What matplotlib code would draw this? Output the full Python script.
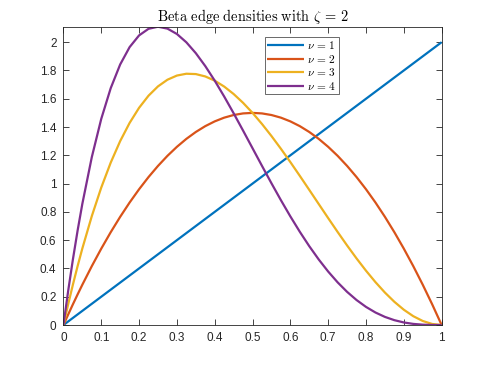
import matplotlib
matplotlib.use("Agg")
import matplotlib.pyplot as plt

plt.rcParams['mathtext.fontset'] = 'cm'
plt.rcParams['font.family'] = ['Liberation Sans', 'DejaVu Sans']

x1 = [0.0, 1.0]
y1 = [0.0, 2.0]

xs = [0.0, 0.0125, 0.025, 0.0375, 0.05, 0.075, 0.1, 0.125, 0.15, 0.175, 0.2, 0.225, 0.25,
      0.275, 0.3, 0.325, 0.35, 0.375, 0.4, 0.425, 0.45, 0.475, 0.5,
      0.525, 0.55, 0.575, 0.6, 0.625, 0.65, 0.675, 0.7, 0.725, 0.75,
      0.775, 0.8, 0.825, 0.85, 0.875, 0.9, 0.925, 0.95, 0.975, 1.0]

y2 = [0.0, 0.0741, 0.1463, 0.2166, 0.285, 0.4163, 0.54, 0.6563, 0.765, 0.8663, 0.96, 1.0463, 1.125,
      1.1963, 1.26, 1.3163, 1.365, 1.4063, 1.44, 1.4663, 1.485, 1.4963, 1.5,
      1.4963, 1.485, 1.4663, 1.44, 1.4063, 1.365, 1.3163, 1.26, 1.1963, 1.125,
      1.0463, 0.96, 0.8663, 0.765, 0.6563, 0.54, 0.4163, 0.285, 0.1463, 0.0]

y3 = [0.0, 0.1463, 0.2852, 0.4171, 0.5415, 0.7701, 0.972, 1.1484, 1.3005, 1.4293, 1.536, 1.6217, 1.6875,
      1.7346, 1.764, 1.7769, 1.7745, 1.7578, 1.728, 1.6862, 1.6335, 1.5711, 1.5,
      1.4214, 1.3365, 1.2463, 1.152, 1.0547, 0.9555, 0.8556, 0.756, 0.6579, 0.5625,
      0.4708, 0.384, 0.3032, 0.2295, 0.1641, 0.108, 0.0624, 0.0285, 0.0073, 0.0]

y4 = [0.0, 0.2408, 0.4634, 0.6687, 0.8574, 1.1872, 1.458, 1.6748, 1.8424, 1.9653, 2.048, 2.0947, 2.1094,
      2.0959, 2.058, 1.9991, 1.9224, 1.8311, 1.728, 1.6159, 1.4974, 1.3747, 1.25,
      1.1253, 1.0024, 0.8828, 0.768, 0.6592, 0.5574, 0.4634, 0.378, 0.3016, 0.2344,
      0.1766, 0.128, 0.0884, 0.0574, 0.0342, 0.018, 0.0078, 0.0024, 0.0003, 0.0]

labels = [r'$\nu\,=\,1$', r'$\nu\,=\,2$', r'$\nu\,=\,3$', r'$\nu\,=\,4$']
colors = ['#0072BD', '#D95319', '#EDB120', '#7E2F8E']
xticks = [0, 0.1, 0.2, 0.3, 0.4, 0.5, 0.6, 0.7, 0.8, 0.9, 1]
xticklabels = ['0', '0.1', '0.2', '0.3', '0.4', '0.5', '0.6', '0.7', '0.8', '0.9', '1']
yticks = [0, 0.2, 0.4, 0.6, 0.8, 1.0, 1.2, 1.4, 1.6, 1.8, 2.0]
yticklabels = ['0', '0.2', '0.4', '0.6', '0.8', '1', '1.2', '1.4', '1.6', '1.8', '2']

fig = plt.figure(figsize=(4.88, 3.66), dpi=100)
ax = fig.add_axes([0.13, 0.112, 0.775, 0.815])

series = [(x1, y1), (xs, y2), (xs, y3), (xs, y4)]
for (xx, yy), c, lab in zip(series, colors, labels):
    ax.plot(xx, yy, color=c, lw=1.6, label=lab, solid_capstyle='butt')

ax.set_xlim(0, 1)
ax.set_ylim(0, max(y4))
ax.set_xticks(xticks)
ax.set_xticklabels(xticklabels)
ax.set_yticks(yticks)
ax.set_yticklabels(yticklabels)

axcol = '#262626'
for s in ax.spines.values():
    s.set_color(axcol)
    s.set_linewidth(0.6)
ax.tick_params(direction='in', length=4, width=0.6, colors=axcol, labelsize=8.5,
               top=True, right=True, pad=5)

ax.set_title(r'$\mathrm{Beta\ edge\ densities\ with\ }\zeta\,=\,2$', fontsize=10.4, color='black', pad=4)

leg = ax.legend(loc='upper left', bbox_to_anchor=(0.532, 0.967), fontsize=8.2,
                frameon=True, fancybox=False, handlelength=3.2, handletextpad=0.3,
                borderpad=0.25, labelspacing=0.12, borderaxespad=0)
leg.get_frame().set_edgecolor(axcol)
leg.get_frame().set_linewidth(0.6)

fig.savefig('out.png', dpi=100)
